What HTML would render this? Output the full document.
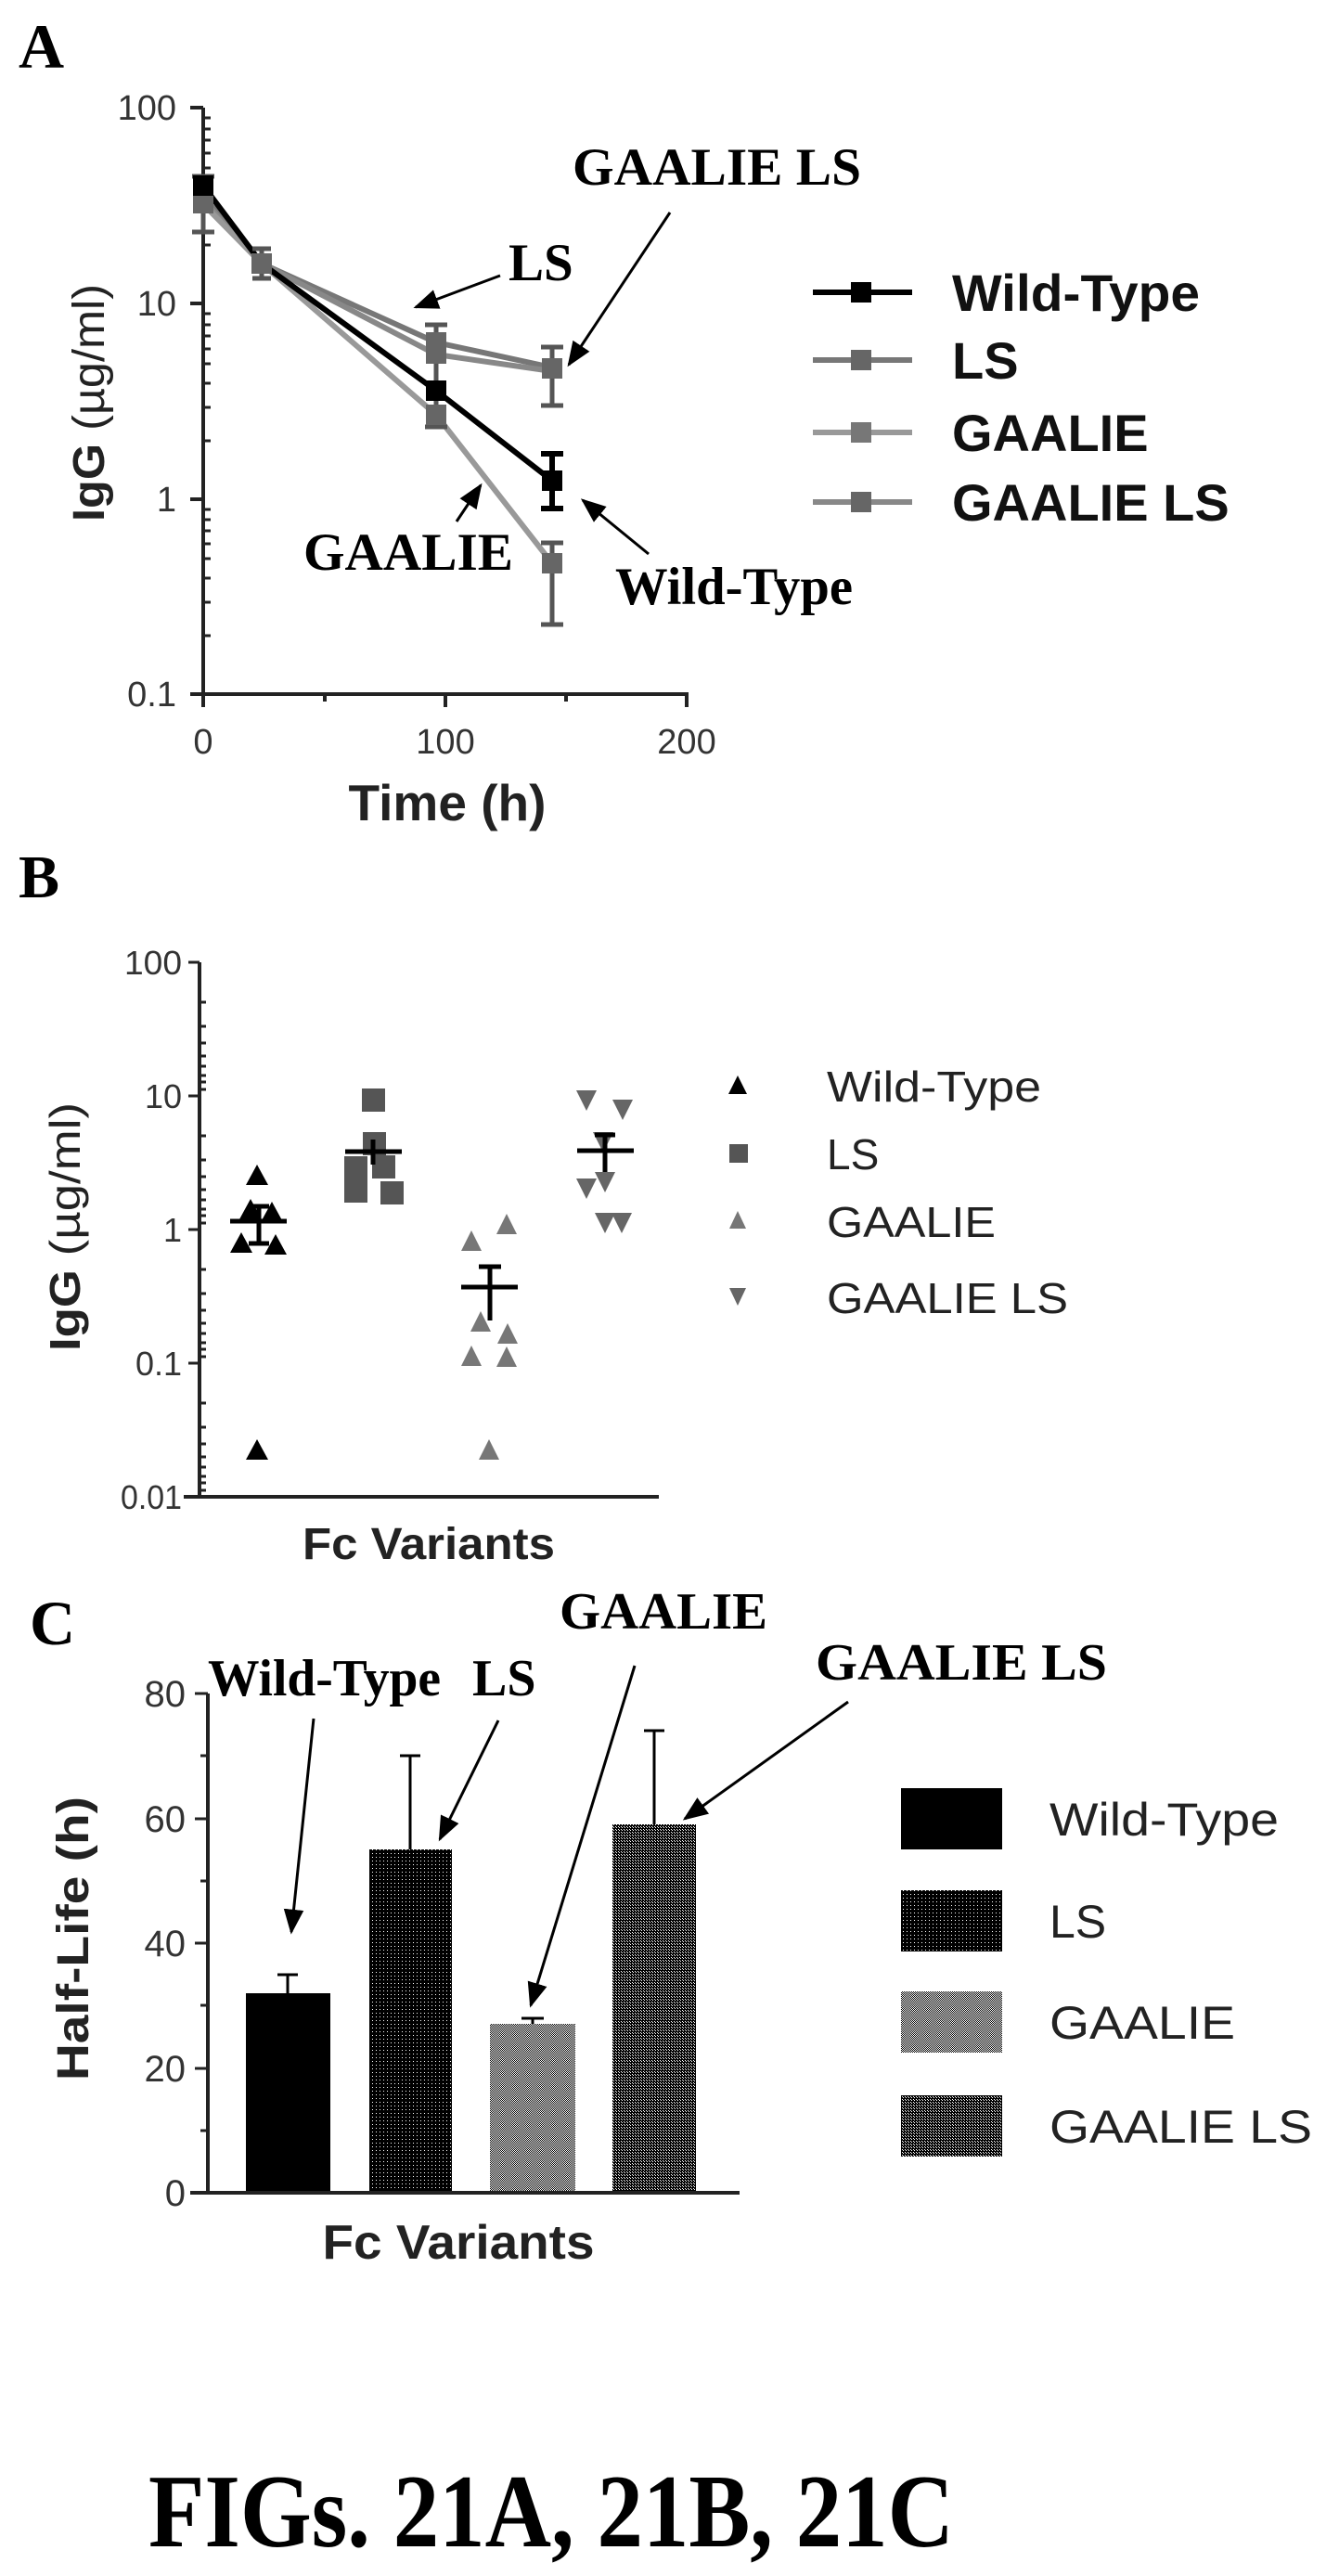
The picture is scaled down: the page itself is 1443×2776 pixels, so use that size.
<!DOCTYPE html>
<html><head><meta charset="utf-8"><style>html,body{margin:0;padding:0;background:#fff}svg{display:block}</style></head>
<body>
<svg width="1443" height="2776" viewBox="0 0 1443 2776" xmlns="http://www.w3.org/2000/svg">
<defs>
<pattern id="dk" width="4" height="4" patternUnits="userSpaceOnUse"><rect width="4" height="4" fill="#000"/><rect x="1" y="1" width="1" height="1" fill="#fff"/></pattern>
<pattern id="md" width="3" height="3" patternUnits="userSpaceOnUse"><rect width="3" height="3" fill="#000"/><rect x="1" y="1" width="1" height="1" fill="#fff"/><rect x="0" y="0" width="1" height="1" fill="#fff"/></pattern>
<pattern id="lt" width="2" height="2" patternUnits="userSpaceOnUse"><rect width="2" height="2" fill="#fff"/><rect width="1" height="1" fill="#000"/><rect x="1" y="1" width="1" height="1" fill="#000"/></pattern>
<marker id="ah" viewBox="0 0 10 10" refX="9" refY="5" markerWidth="9" markerHeight="9" orient="auto-start-reverse"><path d="M0,1 L10,5 L0,9 z" fill="#000"/></marker>
</defs>
<g font-family="Liberation Serif, serif" font-weight="bold" fill="#000">
<text x="20" y="73" font-size="68">A</text>
<text x="20" y="967" font-size="66">B</text>
<text x="32" y="1772" font-size="68">C</text>
<text x="160" y="2744" font-size="112" textLength="868" lengthAdjust="spacingAndGlyphs">FIGs. 21A, 21B, 21C</text>
</g>

<!-- PANEL A -->
<g stroke="#222" stroke-width="4" fill="none">
<line x1="219" y1="116" x2="219" y2="750"/>
<line x1="205" y1="748" x2="742" y2="748"/>
<line x1="205" y1="116" x2="219" y2="116"/><line x1="205" y1="327" x2="219" y2="327"/><line x1="205" y1="538" x2="219" y2="538"/>
<line x1="219" y1="748" x2="219" y2="762"/><line x1="480" y1="748" x2="480" y2="762"/><line x1="740" y1="748" x2="740" y2="762"/>
<line x1="350" y1="748" x2="350" y2="756"/><line x1="610" y1="748" x2="610" y2="756"/>
</g>
<g stroke="#222" stroke-width="3">
<path d="M219 264h8M219 228h8M219 202h8M219 181h8M219 165h8M219 151h8M219 139h8M219 127h8
M219 475h8M219 439h8M219 413h8M219 392h8M219 376h8M219 362h8M219 350h8M219 338h8
M219 685h8M219 649h8M219 623h8M219 602h8M219 586h8M219 572h8M219 560h8M219 549h8"/>
</g>
<g font-family="Liberation Sans, sans-serif" font-size="38" fill="#333" text-anchor="end">
<text x="190" y="129">100</text><text x="190" y="340">10</text><text x="190" y="551">1</text><text x="190" y="761">0.1</text>
</g>
<g font-family="Liberation Sans, sans-serif" font-size="38" fill="#333" text-anchor="middle">
<text x="219" y="812">0</text><text x="480" y="812">100</text><text x="740" y="812">200</text>
</g>
<text x="482" y="884" font-family="Liberation Sans, sans-serif" font-weight="bold" font-size="55" text-anchor="middle" fill="#222">Time (h)</text>
<text transform="translate(112,434) rotate(-90)" font-family="Liberation Sans, sans-serif" font-size="48" text-anchor="middle" fill="#222" textLength="256" lengthAdjust="spacingAndGlyphs"><tspan font-weight="bold">IgG</tspan> (µg/ml)</text>

<g fill="none" stroke-width="6">
<polyline points="219,212 282,284 470,369 595,396" stroke="#777"/>
<polyline points="219,216 282,284 470,382 595,400" stroke="#888"/>
<polyline points="219,220 282,284 470,447 595,607" stroke="#999"/>
<polyline points="219,200 282,284 470,421 595,518" stroke="#000"/>
</g>
<g stroke="#555" stroke-width="5">
<path d="M219 190v60M207 190h24M207 250h24M282 268v32M272 268h20M272 300h20M470 350v110M458 350h24M458 460h24"/>
<path d="M595 374v63M583 374h24M583 437h24M595 585v88M583 585h24M583 673h24"/>
</g>
<g stroke="#000" stroke-width="6"><path d="M595 489v59M583 489h24M583 548h24"/></g>
<g fill="#666">
<rect x="208" y="190" width="22" height="40"/><rect x="271" y="273" width="22" height="22"/>
<rect x="459" y="358" width="22" height="34"/><rect x="459" y="436" width="22" height="22"/>
<rect x="584" y="386" width="22" height="22"/><rect x="584" y="596" width="22" height="22"/>
</g>
<g fill="#000"><rect x="208" y="189" width="22" height="22"/><rect x="459" y="410" width="22" height="22"/><rect x="584" y="507" width="22" height="22"/></g>

<g font-family="Liberation Serif, serif" font-weight="bold" font-size="57" fill="#000">
<text x="617" y="199" textLength="311" lengthAdjust="spacingAndGlyphs">GAALIE LS</text>
<text x="548" y="302">LS</text>
<text x="327" y="614" textLength="226" lengthAdjust="spacingAndGlyphs">GAALIE</text>
<text x="663" y="651" textLength="256" lengthAdjust="spacingAndGlyphs">Wild-Type</text>
</g>
<g stroke="#000" stroke-width="3" marker-end="url(#ah)">
<line x1="539" y1="297" x2="448" y2="331"/>
<line x1="722" y1="229" x2="613" y2="393"/>
<line x1="492" y1="562" x2="518" y2="523"/>
<line x1="699" y1="597" x2="628" y2="539"/>
</g>

<g stroke-width="6">
<line x1="876" y1="315" x2="983" y2="315" stroke="#000"/>
<line x1="876" y1="388" x2="983" y2="388" stroke="#777"/>
<line x1="876" y1="466" x2="983" y2="466" stroke="#999"/>
<line x1="876" y1="541" x2="983" y2="541" stroke="#888"/>
</g>
<rect x="917" y="304" width="22" height="22" fill="#000"/>
<rect x="917" y="377" width="22" height="22" fill="#666"/>
<rect x="917" y="455" width="22" height="22" fill="#777"/>
<rect x="917" y="530" width="22" height="22" fill="#666"/>
<g font-family="Liberation Sans, sans-serif" font-weight="bold" font-size="56" fill="#111">
<text x="1026" y="335" textLength="267" lengthAdjust="spacingAndGlyphs">Wild-Type</text>
<text x="1026" y="408">LS</text>
<text x="1026" y="486">GAALIE</text>
<text x="1026" y="561">GAALIE LS</text>
</g>

<!-- PANEL B -->
<g stroke="#222" stroke-width="4"><line x1="215" y1="1037" x2="215" y2="1615"/><line x1="198" y1="1613" x2="710" y2="1613"/></g>
<g stroke="#222" stroke-width="3">
<path d="M203 1037h12M203 1181h12M203 1325h12M203 1469h12M203 1613h12"/>
<path d="M215 1080h7M215 1106h7M215 1124h7M215 1138h7M215 1149h7M215 1159h7M215 1166h7M215 1174h7
M215 1224h7M215 1250h7M215 1268h7M215 1282h7M215 1293h7M215 1303h7M215 1310h7M215 1318h7
M215 1368h7M215 1394h7M215 1412h7M215 1426h7M215 1437h7M215 1447h7M215 1454h7M215 1462h7
M215 1512h7M215 1538h7M215 1556h7M215 1570h7M215 1581h7M215 1591h7M215 1598h7M215 1606h7"/>
</g>
<g font-family="Liberation Sans, sans-serif" font-size="36" fill="#333" text-anchor="end">
<text x="196" y="1050" textLength="62" lengthAdjust="spacingAndGlyphs">100</text><text x="196" y="1194">10</text><text x="196" y="1338">1</text><text x="196" y="1482">0.1</text><text x="196" y="1626" textLength="66" lengthAdjust="spacingAndGlyphs">0.01</text>
</g>
<text transform="translate(86,1322) rotate(-90)" font-family="Liberation Sans, sans-serif" font-size="46" text-anchor="middle" fill="#222" textLength="268" lengthAdjust="spacingAndGlyphs"><tspan font-weight="bold">IgG</tspan> (µg/ml)</text>
<text x="462" y="1680" font-family="Liberation Sans, sans-serif" font-weight="bold" font-size="48" text-anchor="middle" fill="#222" textLength="272" lengthAdjust="spacingAndGlyphs">Fc Variants</text>

<g fill="#000">
<path d="M277 1255l12 22h-24z M270 1292l12 22h-24z M293 1295l12 22h-24z M260 1328l12 22h-24z M297 1330l12 22h-24z M277 1551l12 22h-24z"/>
</g>
<g fill="#555">
<rect x="390" y="1173" width="25" height="25"/><rect x="391" y="1220" width="25" height="25"/>
<rect x="371" y="1246" width="25" height="25"/><rect x="401" y="1245" width="25" height="25"/>
<rect x="371" y="1271" width="25" height="25"/><rect x="410" y="1273" width="25" height="25"/>
</g>
<g fill="#777">
<path d="M508 1326l11 22h-22z M546 1308l11 22h-22z M518 1413l11 22h-22z M547 1426l11 22h-22z M508 1450l11 22h-22z M546 1451l11 22h-22z M527 1551l11 22h-22z"/>
</g>
<g fill="#666">
<path d="M621 1175h22l-11 22z M660 1185h22l-11 22z M639 1220h22l-11 22z M621 1270h22l-11 22z M641 1263h22l-11 22z M641 1307h22l-11 22z M659 1307h22l-11 22z"/>
</g>
<g stroke="#000" stroke-width="5">
<path d="M248 1316h61M279 1300v40M268 1300h22M268 1340h22"/>
<path d="M372 1241h61M402 1228v27"/>
<path d="M497 1387h61M528 1365v58M516 1365h24"/>
<path d="M622 1240h61M652 1223v40M641 1223h22"/>
</g>
<path d="M795 1159l10 20h-20z" fill="#000"/>
<rect x="786" y="1233" width="20" height="20" fill="#555"/>
<path d="M795 1305l9 19h-18z" fill="#777"/>
<path d="M786 1388h18l-9 19z" fill="#666"/>
<g font-family="Liberation Sans, sans-serif" font-size="46" fill="#222">
<text x="891" y="1187" textLength="231" lengthAdjust="spacingAndGlyphs">Wild-Type</text>
<text x="891" y="1260">LS</text>
<text x="891" y="1333" textLength="182" lengthAdjust="spacingAndGlyphs">GAALIE</text>
<text x="891" y="1415" textLength="260" lengthAdjust="spacingAndGlyphs">GAALIE LS</text>
</g>

<!-- PANEL C -->
<rect x="265" y="2148" width="91" height="215" fill="#000"/>
<rect x="398" y="1993" width="89" height="370" fill="url(#dk)"/>
<rect x="528" y="2181" width="92" height="182" fill="url(#lt)"/>
<rect x="660" y="1966" width="90" height="397" fill="url(#md)"/>
<g stroke="#000" stroke-width="3">
<path d="M310 2148v-20M299 2128h22M442 1993v-101M431 1892h22M574 2181v-6M562 2175h24M705 1966v-101M694 1865h22"/>
</g>
<g stroke="#222" stroke-width="4"><line x1="224" y1="1825" x2="224" y2="2365"/><line x1="205" y1="2363" x2="797" y2="2363"/></g>
<g stroke="#222" stroke-width="3"><path d="M210 1825h14M210 1960h14M210 2094h14M210 2229h14M210 2363h14M216 1892h8M216 2027h8M216 2161h8M216 2296h8"/></g>
<g font-family="Liberation Sans, sans-serif" font-size="40" fill="#333" text-anchor="end">
<text x="200" y="1839">80</text><text x="200" y="1974">60</text><text x="200" y="2108">40</text><text x="200" y="2243">20</text><text x="200" y="2377">0</text>
</g>
<text transform="translate(95,2089) rotate(-90)" font-family="Liberation Sans, sans-serif" font-weight="bold" font-size="48" text-anchor="middle" fill="#222" textLength="306" lengthAdjust="spacingAndGlyphs">Half-Life (h)</text>
<text x="494" y="2434" font-family="Liberation Sans, sans-serif" font-weight="bold" font-size="52" text-anchor="middle" fill="#222" textLength="293" lengthAdjust="spacingAndGlyphs">Fc Variants</text>
<g font-family="Liberation Serif, serif" font-weight="bold" font-size="56" fill="#000">
<text x="603" y="1755" textLength="224" lengthAdjust="spacingAndGlyphs">GAALIE</text>
<text x="224" y="1827" textLength="251" lengthAdjust="spacingAndGlyphs">Wild-Type</text>
<text x="509" y="1827">LS</text>
<text x="879" y="1810" textLength="314" lengthAdjust="spacingAndGlyphs">GAALIE LS</text>
</g>
<g stroke="#000" stroke-width="3" marker-end="url(#ah)">
<line x1="338" y1="1852" x2="314" y2="2082"/>
<line x1="537" y1="1854" x2="474" y2="1982"/>
<line x1="684" y1="1795" x2="572" y2="2161"/>
<line x1="914" y1="1834" x2="738" y2="1960"/>
</g>
<rect x="971" y="1927" width="109" height="66" fill="#000"/>
<rect x="971" y="2037" width="109" height="66" fill="url(#dk)"/>
<rect x="971" y="2146" width="109" height="66" fill="url(#lt)"/>
<rect x="971" y="2258" width="109" height="66" fill="url(#md)"/>
<g font-family="Liberation Sans, sans-serif" font-size="50" fill="#222">
<text x="1131" y="1978" textLength="247" lengthAdjust="spacingAndGlyphs">Wild-Type</text>
<text x="1131" y="2088">LS</text>
<text x="1131" y="2197" textLength="200" lengthAdjust="spacingAndGlyphs">GAALIE</text>
<text x="1131" y="2309" textLength="283" lengthAdjust="spacingAndGlyphs">GAALIE LS</text>
</g>
</svg>
</body></html>
